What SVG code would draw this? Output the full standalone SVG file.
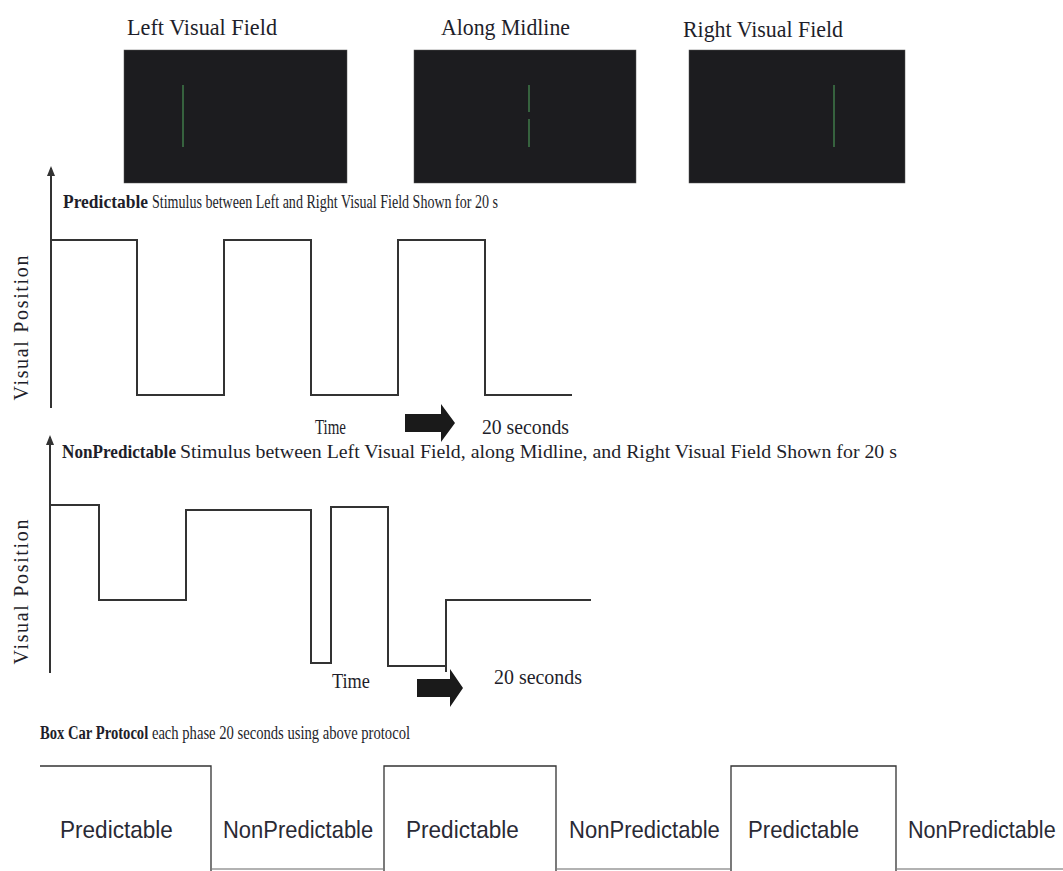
<svg xmlns="http://www.w3.org/2000/svg" width="1063" height="871" viewBox="0 0 1063 871">
<style>
.serif{font-family:"Liberation Serif","Times New Roman",serif;fill:#1e1e2a}
.sans{font-family:"Liberation Sans",Arial,sans-serif;fill:#2a2a35}
.title{font-size:24px}
.cap{font-size:19px}
.bold{font-weight:bold}
.lbl{font-size:20px}
.vp{font-size:20px}
.box{font-size:24px}
.wave{fill:none;stroke:#333;stroke-width:2}
.axis{fill:none;stroke:#333;stroke-width:2}
.screen{fill:#1c1c1f;stroke:#555;stroke-width:0.5}
.stim{stroke:#3f7a4a;stroke-width:1.5}
.bc{fill:none;stroke:#333;stroke-width:1.3}
.bcl{fill:none;stroke:#999;stroke-width:1.3}
</style>
<defs>
<marker id="ah" markerWidth="10" markerHeight="8" refX="8" refY="4" orient="auto" markerUnits="userSpaceOnUse">
<path d="M0,0 L10,4 L0,8 Z" fill="#333"/>
</marker>
</defs>
<rect width="1063" height="871" fill="#ffffff"/>

<g id="left-field">
<text class="serif title" x="127" y="35" textLength="150" lengthAdjust="spacingAndGlyphs">Left Visual Field</text>
<rect class="screen" x="124" y="50" width="223" height="133"/>
<line class="stim" x1="183" y1="85" x2="183" y2="147"/>
</g>
<g id="midline">
<text class="serif title" x="441" y="35" textLength="129" lengthAdjust="spacingAndGlyphs">Along Midline</text>
<rect class="screen" x="414" y="50" width="222" height="133"/>
<line class="stim" x1="529" y1="85" x2="529" y2="112"/>
<line class="stim" x1="529" y1="119" x2="529" y2="147"/>
</g>
<g id="right-field">
<text class="serif title" x="683" y="37" textLength="160" lengthAdjust="spacingAndGlyphs">Right Visual Field</text>
<rect class="screen" x="689" y="50" width="216" height="133"/>
<line class="stim" x1="834" y1="85" x2="834" y2="147"/>
</g>

<g id="predictable-chart">
<text class="serif cap bold" x="63" y="208" textLength="85" lengthAdjust="spacingAndGlyphs">Predictable</text>
<text class="serif cap" x="152" y="208" textLength="346" lengthAdjust="spacingAndGlyphs">Stimulus between Left and Right Visual Field Shown for 20 s</text>
<text class="serif vp" transform="translate(28,328) rotate(-90)" text-anchor="middle" textLength="145" lengthAdjust="spacing">Visual Position</text>
<text class="serif lbl" x="315" y="434" textLength="31" lengthAdjust="spacingAndGlyphs">Time</text>
<text class="serif lbl" x="482" y="434" textLength="87" lengthAdjust="spacingAndGlyphs">20 seconds</text>
</g>

<g id="nonpredictable-chart">
<text class="serif cap bold" x="62" y="458" textLength="114" lengthAdjust="spacingAndGlyphs">NonPredictable</text>
<text class="serif cap" x="180" y="458" textLength="717" lengthAdjust="spacingAndGlyphs">Stimulus between Left Visual Field, along Midline, and Right Visual Field Shown for 20 s</text>
<text class="serif vp" transform="translate(28,592) rotate(-90)" text-anchor="middle" textLength="145" lengthAdjust="spacing">Visual Position</text>
<text class="serif lbl" x="332" y="688" textLength="38" lengthAdjust="spacingAndGlyphs">Time</text>
<text class="serif lbl" x="494" y="684" textLength="88" lengthAdjust="spacingAndGlyphs">20 seconds</text>
</g>

<g id="boxcar">
<text class="serif cap" transform="translate(40,739) scale(0.77,1)"><tspan class="bold">Box Car Protocol</tspan> each phase 20 seconds using above protocol</text>
<path class="bc" d="M40,766 H211 V871"/>
<path class="bc" d="M384,871 V766 H556 V871"/>
<path class="bc" d="M731,871 V766 H896 V871"/>
<path class="bcl" d="M212,869 H383 M557,869 H730 M897,869 H1063"/>
<text class="sans box" transform="translate(60,838) scale(0.94,1)">Predictable</text>
<text class="sans box" transform="translate(223,838) scale(0.916,1)">NonPredictable</text>
<text class="sans box" transform="translate(406,838) scale(0.94,1)">Predictable</text>
<text class="sans box" transform="translate(569,838) scale(0.92,1)">NonPredictable</text>
<text class="sans box" transform="translate(748,838) scale(0.925,1)">Predictable</text>
<text class="sans box" transform="translate(908,838) scale(0.9,1)">NonPredictable</text>
</g>

<g id="connectors">
<line class="axis" x1="51" y1="408" x2="51" y2="168" marker-end="url(#ah)"/>
<path class="wave" d="M51,240 H137 V395 H224 V240 H311 V395 H398 V240 H485 V395 H572"/>
<path d="M405,414 H441 V404 L455,423 L441,442 V432 H405 Z" fill="#1a1a1a"/>
<line class="axis" x1="50" y1="673" x2="50" y2="437" stroke-width="1.5" marker-end="url(#ah)"/>
<path class="wave" stroke-width="1.5" d="M50,505 H99 V600 H186 V510 H311 V663 H331 V507 H388 V666 H446 V600 H591"/>
<line class="wave" stroke-width="1.5" x1="446" y1="666" x2="446" y2="672"/>
<path d="M417,679 H450 V669 L463,688 L450,707 V697 H417 Z" fill="#1a1a1a"/>
</g>
</svg>
